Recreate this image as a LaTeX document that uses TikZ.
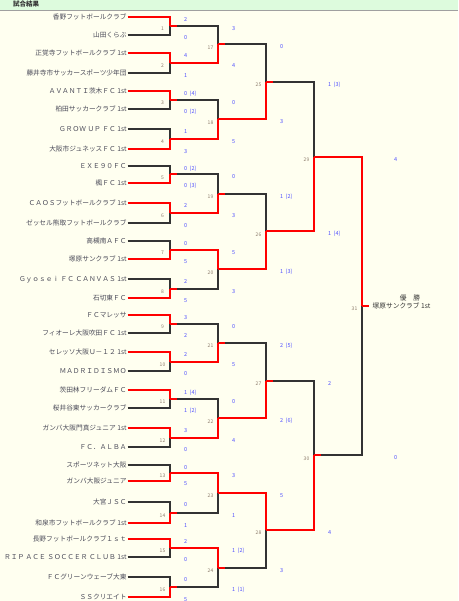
\documentclass[tikz,border=0pt]{standalone}
\usepackage{fontspec}
\newfontfamily\jp{Noto Sans CJK JP}
\usetikzlibrary{calc}
\definecolor{bg}{HTML}{FFFFF0}
\definecolor{hdr}{HTML}{DDFBDD}
\definecolor{hline}{HTML}{A0A0A0}
\definecolor{wincol}{HTML}{FF0000}
\definecolor{losecol}{HTML}{333333}
\definecolor{teamcol}{HTML}{4A4A58}
\definecolor{scorecol}{HTML}{5050FF}
\definecolor{numcol}{HTML}{8C7B6B}
\definecolor{champcol}{HTML}{333333}
\tikzset{
 win/.style={draw=wincol, line width=2pt},
 lose/.style={draw=losecol, line width=2pt},
 team/.style={anchor=east, inner xsep=0.75pt, inner ysep=0pt, text=teamcol,
   font=\jp\fontsize{6.7}{8}\selectfont, text height=5.5pt, text depth=0.5pt},
 score/.style={anchor=west, inner sep=0pt, text=scorecol,
   font=\jp\fontsize{5.5}{6}\selectfont, text height=4pt, text depth=0pt},
 mnum/.style={inner sep=0pt, text=numcol, font=\jp\fontsize{5}{6}\selectfont,
   text height=3.6pt, text depth=0pt},
 champ/.style={inner sep=0pt, text=champcol, font=\jp\fontsize{6.7}{8}\selectfont,
   text height=5.5pt, text depth=0.5pt},
 hdrtext/.style={inner sep=0pt, text=champcol, font=\jp\bfseries\fontsize{6.5}{8}\selectfont},
}
\newcommand\scoff{14}
\newcommand\psp{\hspace{2.4pt}}
% #1 match, #2 top input, #3 bottom input, #4 x, #5 1=top wins, #6 top score, #7 bottom score
\newcommand\bmatch[7]{%
  \coordinate (x#1) at (#4,0);
  \coordinate (m#1t) at (#2 -| x#1);
  \coordinate (m#1b) at (#3 -| x#1);
  \coordinate (m#1c) at ($(m#1t)!0.5!(m#1b)$);
  \coordinate (m#1o) at ($(m#1c)+(7,0)$);
  \ifnum#5=1
    \draw[lose] (#3) -- (m#1b) -- (m#1c);
    \draw[win] (#2) -- (m#1t) -- (m#1c);
  \else
    \draw[lose] (#2) -- (m#1t) -- (m#1c);
    \draw[win] (#3) -- (m#1b) -- (m#1c);
  \fi
  \node[score] (s#1t) at ($(m#1t)+(\scoff,2.5)$) {#6};
  \node[score] (s#1b) at ($(m#1b)+(\scoff,2.5)$) {#7};
  \node[mnum] (l#1) at ($(m#1c)+(-7.5,3)$) {#1};
}
\begin{document}
\begin{tikzpicture}[x=1pt,y=-1pt]
\useasboundingbox (0,0) rectangle (458,601);
\fill[bg] (0,0) rectangle (458,601);
\fill[hdr] (0,0) rectangle (458,10.5);
\draw[hline, line width=1pt] (0,11) -- (458,11);
\node[hdrtext, anchor=west] (hdr) at (13,4.5) {試合結果};

\foreach \y/\t [count=\i] in {
 17/香野フットボールクラブ,
 35/山田くらぶ,
 53/正覚寺フットボールクラブ 1st,
 73/藤井寺市サッカースポーツ少年団,
 91/ＡＶＡＮＴＩ茨木ＦＣ 1st,
 109/柏田サッカークラブ 1st,
 129/ＧＲＯＷ ＵＰ ＦＣ 1st,
 149/大阪市ジュネッスＦＣ 1st,
 166/ＥＸＥ９０ＦＣ,
 183/楓ＦＣ 1st,
 203/ＣＡＯＳフットボールクラブ 1st,
 223/ゼッセル熊取フットボールクラブ,
 241/高槻南ＡＦＣ,
 259/塚原サンクラブ 1st,
 279/Ｇｙｏｓｅｉ ＦＣ ＣＡＮＶＡＳ 1st,
 298/石切東ＦＣ,
 315/ＦＣマレッサ,
 333/フィオーレ大阪吹田ＦＣ 1st,
 352/セレッソ大阪Ｕ－１２ 1st,
 371/ＭＡＤＲＩＤＩＳＭＯ,
 390/茨田林フリーダムＦＣ,
 408/桜井谷東サッカークラブ,
 428/ガンバ大阪門真ジュニア 1st,
 447/ＦＣ．ＡＬＢＡ,
 465/スポーツネット大阪,
 481/ガンバ大阪ジュニア,
 502/大宮ＪＳＣ,
 523/和泉市フットボールクラブ 1st,
 539/長野フットボールクラブ１ｓｔ,
 557/ＲＩＰ ＡＣＥ ＳＯＣＣＥＲ ＣＬＵＢ 1st,
 577/ＦＣグリーンウェーブ大東,
 597/ＳＳクリエイト}
 \node[team] (p\i) at (127.5,\y) {\t};

% round 1
\bmatch{1}{p1}{p2}{170}{1}{2}{0}
\bmatch{2}{p3}{p4}{170}{1}{4}{1}
\bmatch{3}{p5}{p6}{170}{1}{0\psp(4)}{0\psp(2)}
\bmatch{4}{p7}{p8}{170}{0}{1}{3}
\bmatch{5}{p9}{p10}{170}{0}{0\psp(2)}{0\psp(3)}
\bmatch{6}{p11}{p12}{170}{1}{2}{0}
\bmatch{7}{p13}{p14}{170}{0}{0}{5}
\bmatch{8}{p15}{p16}{170}{0}{2}{5}
\bmatch{9}{p17}{p18}{170}{1}{3}{2}
\bmatch{10}{p19}{p20}{170}{1}{2}{0}
\bmatch{11}{p21}{p22}{170}{1}{1\psp(4)}{1\psp(2)}
\bmatch{12}{p23}{p24}{170}{1}{3}{0}
\bmatch{13}{p25}{p26}{170}{0}{0}{5}
\bmatch{14}{p27}{p28}{170}{0}{0}{1}
\bmatch{15}{p29}{p30}{170}{1}{2}{0}
\bmatch{16}{p31}{p32}{170}{0}{0}{5}
% round 2
\bmatch{17}{m1c}{m2c}{218}{0}{3}{4}
\bmatch{18}{m3c}{m4c}{218}{0}{0}{5}
\bmatch{19}{m5c}{m6c}{218}{0}{0}{3}
\bmatch{20}{m7c}{m8c}{218}{1}{5}{3}
\bmatch{21}{m9c}{m10c}{218}{0}{0}{5}
\bmatch{22}{m11c}{m12c}{218}{0}{0}{4}
\bmatch{23}{m13c}{m14c}{218}{1}{3}{1}
\bmatch{24}{m15c}{m16c}{218}{1}{1\psp(2)}{1\psp(1)}
% round 3
\bmatch{25}{m17c}{m18c}{266}{0}{0}{3}
\bmatch{26}{m19c}{m20c}{266}{0}{1\psp(2)}{1\psp(3)}
\bmatch{27}{m21c}{m22c}{266}{0}{2\psp(5)}{2\psp(6)}
\bmatch{28}{m23c}{m24c}{266}{1}{5}{3}
% semifinals
\bmatch{29}{m25c}{m26c}{314}{0}{1\psp(3)}{1\psp(4)}
\bmatch{30}{m27c}{m28c}{314}{0}{2}{4}
% final
\renewcommand\scoff{32}
\bmatch{31}{m29c}{m30c}{362}{1}{4}{0}

% winner stubs
\foreach \m in {1,...,31} \draw[win] (m\m c) -- (m\m o);

\node[champ] (champtitle) at (410,298) {優　勝};
\node[champ, anchor=west] (champname) at (372.5,306) {塚原サンクラブ 1st};
\end{tikzpicture}
\end{document}
